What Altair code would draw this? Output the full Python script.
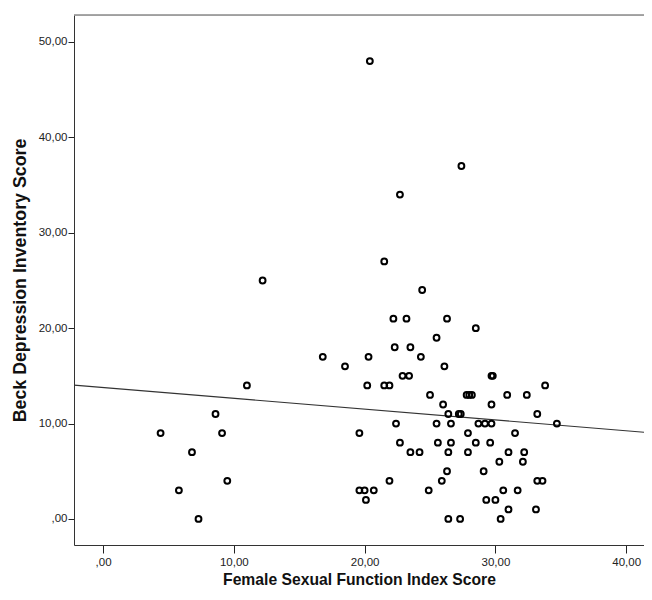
import altair as alt
import pandas as pd

# Female Sexual Function Index score (x) and Beck Depression Inventory score (y)
fsfi = [20.4, 27.4, 22.7, 21.5, 12.2, 24.4,
        11.0, 8.6, 4.4, 9.1, 6.8, 9.5, 5.8, 7.3,
        22.2, 23.2, 26.3, 28.5, 25.5, 16.8, 20.3, 22.3, 23.5, 24.3,
        18.5, 26.1, 20.2, 21.5, 21.9, 22.9, 23.4, 25.0, 26.0,
        27.8, 28.0, 28.2, 26.4, 27.2, 27.35,
        22.4, 25.5, 26.6, 19.6, 27.9, 22.7, 25.6, 26.6,
        23.5, 24.2, 26.4, 27.9, 26.3, 21.9, 25.9,
        19.6, 20.0, 20.7, 20.1, 24.9, 26.4, 27.3,
        29.7, 29.8, 30.9, 32.4, 33.8, 29.7, 33.2,
        28.7, 29.2, 29.7, 34.7, 31.5, 28.5, 29.6, 31.0, 32.2,
        30.3, 32.1, 29.1, 33.2, 33.6, 30.6, 31.7, 29.3, 30.0,
        31.0, 33.1, 30.4]
bdi = [48, 37, 34, 27, 25, 24,
       14, 11, 9, 9, 7, 4, 3, 0,
       21, 21, 21, 20, 19, 17, 17, 18, 18, 17,
       16, 16, 14, 14, 14, 15, 15, 13, 12,
       13, 13, 13, 11, 11, 11,
       10, 10, 10, 9, 9, 8, 8, 8,
       7, 7, 7, 7, 5, 4, 4,
       3, 3, 3, 2, 3, 0, 0,
       15, 15, 13, 13, 14, 12, 11,
       10, 10, 10, 10, 9, 8, 8, 7, 7,
       6, 6, 5, 4, 4, 3, 3, 2, 2,
       1, 1, 0]

# fit line (intercept, slope)
fit_intercept = 13.78
fit_slope = -0.1134

x_domain = [-2.22, 41.36]
y_domain = [-2.73, 52.83]
x_ticks = [0, 10, 20, 30, 40]
y_ticks = [0, 10, 20, 30, 40, 50]

points = pd.DataFrame({"fsfi": fsfi, "bdi": bdi})
fit = pd.DataFrame({
    "fsfi": x_domain,
    "bdi": [fit_intercept + fit_slope * v for v in x_domain],
})
frame_top = pd.DataFrame({"x0": [x_domain[0]], "x1": [x_domain[1]], "y": [y_domain[1]]})

FONT = "Liberation Sans"
label_expr = "datum.value == 0 ? ',00' : replace(format(datum.value, '.2f'), '.', ',')"

x_enc = alt.X(
    "fsfi:Q",
    scale=alt.Scale(domain=x_domain, nice=False, zero=False),
    axis=alt.Axis(
        title="Female Sexual Function Index Score",
        values=x_ticks, labelExpr=label_expr, grid=False,
        tickSize=8, tickColor="#222", domainColor="#333",
        labelFont=FONT, labelFontSize=11.5, labelColor="#222", labelPadding=3,
        titleFont=FONT, titleFontSize=15.7, titleFontWeight="bold",
        titleColor="#111", titlePadding=5,
    ),
)
y_enc = alt.Y(
    "bdi:Q",
    scale=alt.Scale(domain=y_domain, nice=False, zero=False),
    axis=alt.Axis(
        title="Beck Depression Inventory Score",
        values=y_ticks, labelExpr=label_expr, grid=False,
        tickSize=6, tickColor="#222", domainColor="#333",
        labelFont=FONT, labelFontSize=11.5, labelColor="#222", labelPadding=1,
        titleFont=FONT, titleFontSize=17.8, titleFontWeight="bold",
        titleColor="#111", titlePadding=9,
    ),
)

pts = alt.Chart(points).mark_point(
    shape="circle", filled=False, stroke="#000", strokeWidth=2, size=34, opacity=1
).encode(x=x_enc, y=y_enc)

line = alt.Chart(fit).mark_line(color="#333", strokeWidth=1.2).encode(
    x=alt.X("fsfi:Q"), y=alt.Y("bdi:Q")
)

top_border = alt.Chart(frame_top).mark_rule(color="#8a8a8a", strokeWidth=1.5).encode(
    x=alt.X("x0:Q"), x2="x1:Q", y=alt.Y("y:Q")
)

chart = (
    alt.layer(top_border, line, pts)
    .properties(
        width=570, height=530,
        autosize=alt.AutoSizeParams(type="none"),
        padding={"left": 66, "top": 7, "right": 0, "bottom": 42},
    )
    .configure_view(fill="#F3F4F6", strokeWidth=0)
    .configure(background="white")
)

chart.save("out.html", embed_options={"renderer": "svg", "actions": False})
